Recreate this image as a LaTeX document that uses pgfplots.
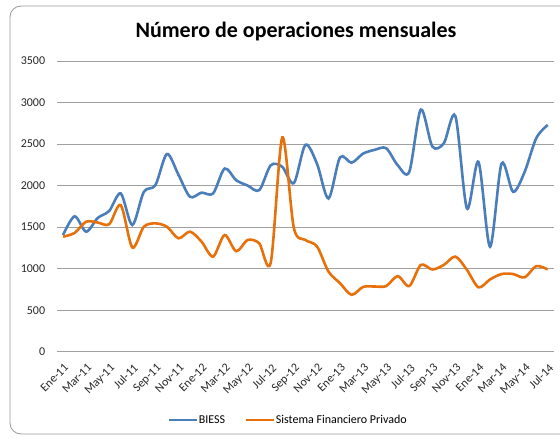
\documentclass[border=0pt]{standalone}
\usepackage{pgfplots}
\pgfplotsset{compat=1.18}
\usepackage{pgfplotstable}
\usepackage{fontspec}
\setmainfont{Carlito}
\definecolor{biess}{HTML}{4A7EBB}
\definecolor{sfp}{HTML}{E8700A}
\definecolor{gridc}{HTML}{A0A0A0}
\pgfplotstableread{
x y
0 1405
1 1630
2 1445
3 1610
4 1695
5 1905
6 1525
7 1925
8 2005
9 2380
10 2130
11 1865
12 1915
13 1905
14 2205
15 2065
16 2000
17 1945
18 2245
19 2225
20 2030
21 2490
22 2265
23 1845
24 2340
25 2275
26 2385
27 2430
28 2450
29 2245
30 2165
31 2915
32 2470
33 2510
34 2835
35 1725
36 2285
37 1265
38 2265
39 1925
40 2165
41 2570
42 2730
}\biessdata
\pgfplotstableread{
x y
0 1385
1 1430
2 1565
3 1555
4 1535
5 1765
6 1255
7 1505
8 1545
9 1505
10 1365
11 1445
12 1325
13 1145
14 1405
15 1210
16 1345
17 1305
18 1075
19 2580
20 1490
21 1345
22 1268
23 965
24 825
25 685
26 780
27 785
28 790
29 910
30 790
31 1045
32 990
33 1045
34 1145
35 985
36 775
37 870
38 935
39 935
40 895
41 1030
42 990
}\sfpdata
\begin{document}
\begin{tikzpicture}[x=1pt,y=1pt]
\useasboundingbox (0,0) rectangle (560,437);
\begin{scope}
\clip (0,0) rectangle (560,437);
\draw[gray!80, line width=0.8pt, rounded corners=11pt] (10,3) rectangle (620,431);
\end{scope}
\node[font=\fontsize{22}{26}\selectfont\bfseries] at (296,405) {Número de operaciones mensuales};
\begin{axis}[
  at={(57.3pt,85.3pt)}, anchor=south west,
  scale only axis, width=496.2pt, height=290.7pt,
  xmin=-0.5, xmax=42.5, ymin=0, ymax=3500,
  ytick={0,500,...,3500},
  xtick={0,2,...,42},
  xticklabels={Ene-11,Mar-11,May-11,Jul-11,Sep-11,Nov-11,Ene-12,Mar-12,May-12,Jul-12,Sep-12,Nov-12,Ene-13,Mar-13,May-13,Jul-13,Sep-13,Nov-13,Ene-14,Mar-14,May-14,Jul-14},
  axis line style={draw=none},
  major tick length=0pt,
  ymajorgrids, major grid style={gridc, line width=0.9pt},
  /pgf/number format/assume math mode=true,
  /pgf/number format/1000 sep={},
  ticklabel style={font=\fontsize{12}{14}\selectfont, text=black!85},
  yticklabel style={anchor=east, inner sep=0pt, xshift=-12pt},
  xticklabel style={yshift=-11pt, xshift=0.5pt, rotate=45, anchor=north east, inner sep=0pt},
  legend columns=2,
  legend style={at={(0.464,-0.235)}, anchor=center, draw=none, fill=none,
    font=\fontsize{12}{14}\selectfont, inner sep=0pt, nodes={inner sep=1pt},
    /tikz/every even column/.append style={column sep=18pt}},
  legend image code/.code={\draw[#1] (0pt,0pt) -- (28pt,0pt);},
  clip=false,
]
\addplot[biess, line width=2.6pt, smooth, tension=0.5] table[x=x,y=y] {\biessdata};
\addlegendentry{BIESS}
\addplot[sfp, line width=2.6pt, smooth, tension=0.5] table[x=x,y=y] {\sfpdata};
\addlegendentry{Sistema Financiero Privado}
\end{axis}
\end{tikzpicture}
\end{document}
